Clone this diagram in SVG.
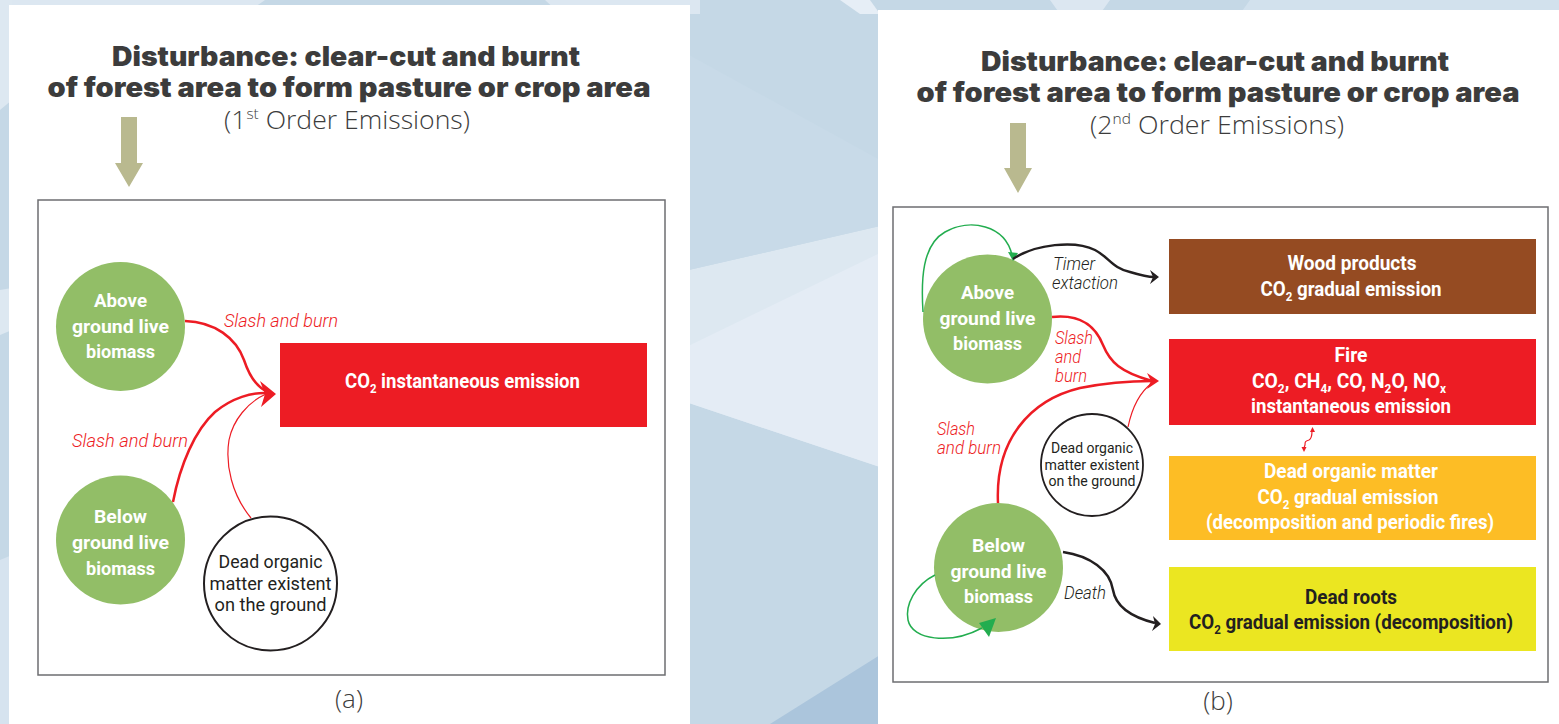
<svg xmlns="http://www.w3.org/2000/svg" width="1559" height="724" viewBox="0 0 1559 724">
<style>
.title{font-family:"Inter","Roboto","Lato","Liberation Sans",sans-serif;font-weight:900;font-size:27px;fill:#3c3c3c}
.sub{font-family:"Open Sans","Liberation Sans",sans-serif;font-weight:300;font-size:26px;fill:#3c3c3c}
.node{font-family:"Roboto","Liberation Sans",sans-serif;font-weight:700;font-size:19px;fill:#ffffff}
.dom{font-family:"Roboto","Liberation Sans",sans-serif;font-weight:400;fill:#231f20}
.lbl{font-family:"Roboto","Liberation Sans",sans-serif;font-style:italic;font-weight:300;font-size:18px}
.red{fill:#ed1c24}
.blk{fill:#231f20}
.box{font-family:"Roboto","Liberation Sans",sans-serif;font-weight:700;font-size:19.5px;fill:#ffffff}
.green{fill:#92be67}
.frame{fill:none;stroke:#6d6e71;stroke-width:1.5}
.cr{fill:none;stroke:#ed1c24;stroke-width:2.5}
.crt{fill:none;stroke:#ed1c24;stroke-width:1.2}
.ck{fill:none;stroke:#231f20;stroke-width:2.5}
.cg{fill:none;stroke:#23ad4f;stroke-width:1.5}
.olive{fill:#b9b98f}
</style>
<g id="background">
<rect x="0" y="0" width="1559" height="724" fill="#c5d8e6"/>
<polygon points="0,0 265,0 245,14 0,14" fill="#dce7f1"/>
<polygon points="545,0 700,0 700,14 560,14" fill="#dce7f1"/>
<polygon points="840,0 870,0 880,14 860,14" fill="#e6eef6"/>
<polygon points="1050,0 1110,0 1100,14 1060,14" fill="#dce7f1"/>
<polygon points="1250,0 1559,0 1559,14 1240,14" fill="#d2e1ed"/>
<polygon points="0,0 12,0 12,100 0,110" fill="#dde8f1"/>
<polygon points="0,290 12,288 12,330 0,335" fill="#dde8f1"/>
<polygon points="0,560 12,555 12,724 0,724" fill="#d6e3ef"/>
<polygon points="680,272 880,226 880,467 680,400" fill="#dde8f1"/>
<polygon points="680,350 880,253 880,467 680,400" fill="#e4ecf5"/>
<polygon points="680,50 880,160 880,226 680,272" fill="#c8dae8"/>
<polygon points="770,724 880,655 880,724" fill="#abc5dc"/>
</g>
<g id="panel-a">
<rect x="9" y="5" width="681" height="719" fill="#ffffff"/>
</g>
<g id="panel-b">
<rect x="878" y="10" width="681" height="714" fill="#ffffff"/>
</g>
<g id="title-a">
<text class="title" x="346" y="66" text-anchor="middle" textLength="468" lengthAdjust="spacingAndGlyphs">Disturbance: clear-cut and burnt</text>
<text class="title" x="349" y="97" text-anchor="middle" textLength="603" lengthAdjust="spacingAndGlyphs">of forest area to form pasture or crop area</text>
<text class="sub" x="347" y="129" text-anchor="middle" textLength="246" lengthAdjust="spacingAndGlyphs">(1<tspan font-size="15" dy="-10">st</tspan><tspan dy="10"> Order Emissions)</tspan></text>
<polygon class="olive" points="121,117 137,117 137,163 143,163 129,187 115,163 121,163"/>
</g>
<g id="title-b">
<text class="title" x="1215" y="71" text-anchor="middle" textLength="468" lengthAdjust="spacingAndGlyphs">Disturbance: clear-cut and burnt</text>
<text class="title" x="1218" y="102" text-anchor="middle" textLength="603" lengthAdjust="spacingAndGlyphs">of forest area to form pasture or crop area</text>
<text class="sub" x="1217" y="134" text-anchor="middle" textLength="254" lengthAdjust="spacingAndGlyphs">(2<tspan font-size="15" dy="-10">nd</tspan><tspan dy="10"> Order Emissions)</tspan></text>
<polygon class="olive" points="1010,123 1026,123 1026,168 1032,168 1018,193 1004,168 1010,168"/>
</g>
<rect class="frame" x="38" y="200" width="627" height="475"/>
<rect class="frame" x="893" y="207" width="655" height="475"/>
<g id="connectors-a">
<path class="cr" d="M185,321 C215,322 236,338 244,360 C250,378 258,388 268,392"/>
<path class="cr" d="M173,502 C180,465 195,430 215,412 C232,398 252,392 268,393"/>
<path class="crt" d="M251,518 C232,495 225,465 229,440 C233,420 248,402 266,394"/>
<polygon class="red" points="276,394 260,381 265,394 261,407"/>
<text class="lbl red" x="224" y="327" textLength="114" lengthAdjust="spacingAndGlyphs">Slash and burn</text>
<text class="lbl red" x="72" y="447" textLength="116" lengthAdjust="spacingAndGlyphs">Slash and burn</text>
</g>
<g id="node-a-above">
<circle class="green" cx="120.5" cy="326.5" r="64.5"/>
<text class="node" x="120.5" y="307" text-anchor="middle" textLength="53" lengthAdjust="spacingAndGlyphs">Above</text>
<text class="node" x="120.5" y="333" text-anchor="middle" textLength="97" lengthAdjust="spacingAndGlyphs">ground live</text>
<text class="node" x="120.5" y="358" text-anchor="middle" textLength="69" lengthAdjust="spacingAndGlyphs">biomass</text>
</g>
<g id="node-a-below">
<circle class="green" cx="120.5" cy="540" r="64.5"/>
<text class="node" x="120.5" y="523" text-anchor="middle" textLength="53" lengthAdjust="spacingAndGlyphs">Below</text>
<text class="node" x="120.5" y="549" text-anchor="middle" textLength="97" lengthAdjust="spacingAndGlyphs">ground live</text>
<text class="node" x="120.5" y="575" text-anchor="middle" textLength="69" lengthAdjust="spacingAndGlyphs">biomass</text>
</g>
<g id="node-a-dom">
<ellipse cx="270.5" cy="583.5" rx="66.5" ry="67" fill="#ffffff" stroke="#231f20" stroke-width="2"/>
<text class="dom" font-size="18" x="270.5" y="568" text-anchor="middle" textLength="104" lengthAdjust="spacingAndGlyphs">Dead organic</text>
<text class="dom" font-size="18" x="270.5" y="590" text-anchor="middle" textLength="122" lengthAdjust="spacingAndGlyphs">matter existent</text>
<text class="dom" font-size="18" x="270.5" y="611" text-anchor="middle" textLength="112" lengthAdjust="spacingAndGlyphs">on the ground</text>
</g>
<g id="node-a-co2">
<rect x="280" y="343" width="367" height="84" fill="#ed1c24"/>
<text class="box" x="462.5" y="388" text-anchor="middle" textLength="235" lengthAdjust="spacingAndGlyphs">CO<tspan font-size="12" dy="5">2</tspan><tspan dy="-5"> instantaneous emission</tspan></text>
</g>
<text class="sub" x="349" y="708" text-anchor="middle">(a)</text>
<g id="node-b-above">
<circle class="green" cx="987.5" cy="319" r="64.5"/>
<text class="node" x="987.5" y="299" text-anchor="middle" textLength="53" lengthAdjust="spacingAndGlyphs">Above</text>
<text class="node" x="987.5" y="325" text-anchor="middle" textLength="96" lengthAdjust="spacingAndGlyphs">ground live</text>
<text class="node" x="987.5" y="350" text-anchor="middle" textLength="69" lengthAdjust="spacingAndGlyphs">biomass</text>
</g>
<g id="node-b-below">
<circle class="green" cx="998.5" cy="567.5" r="64.5"/>
<text class="node" x="998.5" y="552" text-anchor="middle" textLength="53" lengthAdjust="spacingAndGlyphs">Below</text>
<text class="node" x="998.5" y="578" text-anchor="middle" textLength="96" lengthAdjust="spacingAndGlyphs">ground live</text>
<text class="node" x="998.5" y="603" text-anchor="middle" textLength="69" lengthAdjust="spacingAndGlyphs">biomass</text>
</g>
<g id="node-b-dom">
<circle cx="1092" cy="465" r="51" fill="#ffffff" stroke="#231f20" stroke-width="1.8"/>
<text class="dom" font-size="14.5" x="1092" y="453" text-anchor="middle" textLength="82" lengthAdjust="spacingAndGlyphs">Dead organic</text>
<text class="dom" font-size="14.5" x="1092" y="470" text-anchor="middle" textLength="95" lengthAdjust="spacingAndGlyphs">matter existent</text>
<text class="dom" font-size="14.5" x="1092" y="486" text-anchor="middle" textLength="87" lengthAdjust="spacingAndGlyphs">on the ground</text>
</g>
<g id="node-b-wood">
<rect x="1169" y="239" width="367" height="75" fill="#954b22"/>
<text class="box" x="1352" y="270" text-anchor="middle" textLength="129" lengthAdjust="spacingAndGlyphs">Wood products</text>
<text class="box" x="1351" y="296" text-anchor="middle" textLength="181" lengthAdjust="spacingAndGlyphs">CO<tspan font-size="12" dy="5">2</tspan><tspan dy="-5"> gradual emission</tspan></text>
</g>
<g id="node-b-fire">
<rect x="1169" y="339" width="367" height="86" fill="#ed1c24"/>
<text class="box" x="1351" y="362" text-anchor="middle" textLength="33" lengthAdjust="spacingAndGlyphs">Fire</text>
<text class="box" x="1349" y="388" text-anchor="middle" textLength="194" lengthAdjust="spacingAndGlyphs">CO<tspan font-size="12" dy="5">2</tspan><tspan dy="-5">, CH</tspan><tspan font-size="12" dy="5">4</tspan><tspan dy="-5">, CO, N</tspan><tspan font-size="12" dy="5">2</tspan><tspan dy="-5">O, NO</tspan><tspan font-size="12" dy="5">x</tspan></text>
<text class="box" x="1351" y="413" text-anchor="middle" textLength="200" lengthAdjust="spacingAndGlyphs">instantaneous emission</text>
</g>
<g id="node-b-dom-box">
<rect x="1169" y="456" width="367" height="84" fill="#fdbd25"/>
<text class="box" x="1351" y="478" text-anchor="middle" textLength="174" lengthAdjust="spacingAndGlyphs">Dead organic matter</text>
<text class="box" x="1348" y="504" text-anchor="middle" textLength="181" lengthAdjust="spacingAndGlyphs">CO<tspan font-size="12" dy="5">2</tspan><tspan dy="-5"> gradual emission</tspan></text>
<text class="box" x="1350" y="529" text-anchor="middle" textLength="288" lengthAdjust="spacingAndGlyphs">(decomposition and periodic fires)</text>
</g>
<g id="node-b-roots">
<rect x="1169" y="567" width="367" height="84" fill="#ebe621"/>
<text class="box" x="1351" y="604" text-anchor="middle" textLength="92" lengthAdjust="spacingAndGlyphs" style="fill:#231f20">Dead roots</text>
<text class="box" x="1351" y="629" text-anchor="middle" textLength="324" lengthAdjust="spacingAndGlyphs" style="fill:#231f20">CO<tspan font-size="12" dy="5">2</tspan><tspan dy="-5"> gradual emission (decomposition)</tspan></text>
</g>
<g id="connectors-b">
<path class="cg" d="M923,312 C921,280 922,245 945,232 C970,218 1005,225 1012,255"/>
<polygon fill="#23ad4f" points="1013,261 1008,252 1018,253"/>
<path class="ck" d="M1013,259 C1035,244 1075,240 1095,250 C1110,258 1112,268 1130,272 C1140,275 1148,277 1154,277"/>
<polygon class="blk" points="1159,277 1150,270 1153,277 1150,284"/>
<path class="cr" d="M1052,317 C1080,314 1095,325 1103,345 C1110,362 1120,372 1152,381"/>
<path class="cr" d="M998,503 C995,440 1030,400 1080,388 C1110,382 1135,381 1152,381"/>
<path class="crt" d="M1128,427 C1132,408 1140,392 1152,383"/>
<polygon class="red" points="1159,381 1147,373 1151,381 1147,389"/>
<path class="ck" d="M1063,552 C1090,556 1110,570 1113,590 C1116,608 1135,618 1155,623"/>
<polygon class="blk" points="1161,624 1153,616 1155,624 1152,631"/>
<path class="cg" d="M935,575 C915,585 905,605 908,620 C912,640 950,645 982,628"/>
<polygon fill="#23ad4f" points="996,618 979,623 989,637"/>
<path fill="none" stroke="#ed1c24" stroke-width="1.2" d="M1312,431 C1312,436 1311,439 1309,440 C1305,441 1305,442 1305,445 L1304,448"/>
<polygon class="red" points="1312.5,427 1310,432 1315,432"/>
<polygon class="red" points="1304,452 1301.5,447 1306.5,447"/>
<text class="lbl blk" x="1053" y="270" textLength="42" lengthAdjust="spacingAndGlyphs">Timer</text>
<text class="lbl blk" x="1052" y="289" textLength="66" lengthAdjust="spacingAndGlyphs">extaction</text>
<text class="lbl red" x="1055" y="344" textLength="38" lengthAdjust="spacingAndGlyphs">Slash</text>
<text class="lbl red" x="1055" y="363" textLength="26" lengthAdjust="spacingAndGlyphs">and</text>
<text class="lbl red" x="1055" y="382" textLength="32" lengthAdjust="spacingAndGlyphs">burn</text>
<text class="lbl red" x="937" y="435" textLength="38" lengthAdjust="spacingAndGlyphs">Slash</text>
<text class="lbl red" x="937" y="454" textLength="64" lengthAdjust="spacingAndGlyphs">and burn</text>
<text class="lbl blk" x="1064" y="599" textLength="42" lengthAdjust="spacingAndGlyphs">Death</text>
</g>
<text class="sub" x="1218" y="710" text-anchor="middle">(b)</text>
</svg>
